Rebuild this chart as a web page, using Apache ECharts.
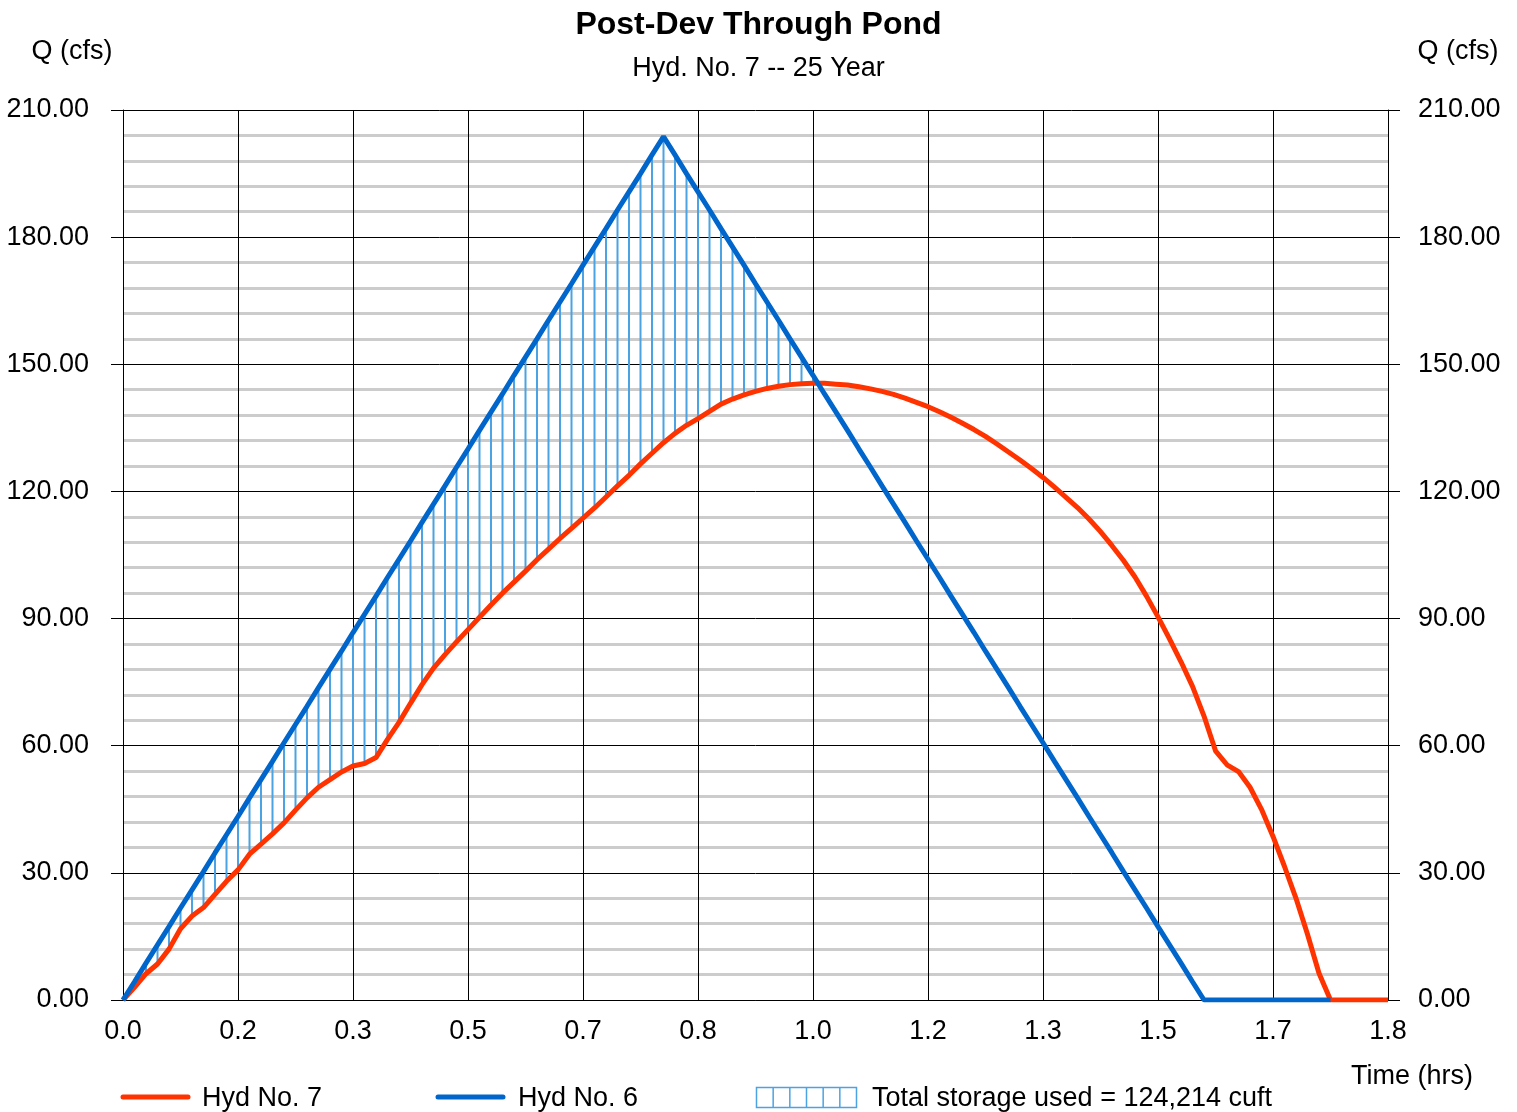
<!DOCTYPE html>
<html>
<head>
<meta charset="utf-8">
<script src="https://cdn.jsdelivr.net/npm/echarts@6/dist/echarts.min.js"></script>
<style>
html, body { margin: 0; padding: 0; background: #fff; }
#chart { width: 1517px; height: 1112px; }
</style>
</head>
<body>
<div id="chart"></div>
<script>
// one value per minute, starting at t = 0 min
const hyd7Outflow = [
	0, 3.0, 6.2, 8.5, 12.0, 16.8, 19.8, 21.8, 24.9, 28.0,
	30.7, 34.4, 36.8, 39.2, 41.8, 44.8, 47.7, 50.2, 52.0, 53.8,
	55.2, 55.8, 57.2, 61.5, 65.5, 70.0, 74.4, 78.3, 81.5, 84.5,
	87.4, 90.3, 93.2, 96.0, 98.6, 101.2, 103.9, 106.4, 108.9, 111.3,
	113.7, 116.1, 118.7, 121.3, 123.8, 126.5, 129.0, 131.5, 133.7, 135.6,
	137.2, 138.9, 140.6, 141.8, 142.8, 143.6, 144.3, 144.8, 145.2, 145.4,
	145.5, 145.5, 145.3, 145.1, 144.7, 144.2, 143.6, 142.9, 142.0, 141.0,
	140.0, 138.8, 137.5, 136.1, 134.6, 133.0, 131.2, 129.3, 127.4, 125.4,
	123.3, 121.0, 118.6, 116.2, 113.5, 110.5, 107.2, 103.7, 99.8, 95.3,
	90.4, 85.2, 79.8, 74.0, 67.0, 58.8, 55.5, 53.9, 50.2, 45.0,
	38.6, 31.5, 24.0, 15.5, 6.3, 0, 0, 0, 0, 0,
	0
];

const hyd6Inflow = [
	0, 4.3, 8.7, 13.0, 17.3, 21.7, 26.0, 30.3, 34.7, 39.0,
	43.3, 47.7, 52.0, 56.3, 60.7, 65.0, 69.3, 73.7, 78.0, 82.3,
	86.7, 91.0, 95.3, 99.7, 104.0, 108.3, 112.7, 117.0, 121.3, 125.7,
	130.0, 134.4, 138.7, 143.0, 147.4, 151.7, 156.0, 160.4, 164.7, 169.0,
	173.4, 177.7, 182.0, 186.4, 190.7, 195.0, 199.4, 203.7, 199.4, 195.0,
	190.7, 186.4, 182.0, 177.7, 173.4, 169.0, 164.7, 160.4, 156.0, 151.7,
	147.4, 143.0, 138.7, 134.4, 130.0, 125.7, 121.3, 117.0, 112.7, 108.3,
	104.0, 99.7, 95.3, 91.0, 86.7, 82.3, 78.0, 73.7, 69.3, 65.0,
	60.7, 56.3, 52.0, 47.7, 43.3, 39.0, 34.7, 30.3, 26.0, 21.7,
	17.3, 13.0, 8.7, 4.3, 0, 0, 0, 0, 0, 0,
	0, 0, 0, 0, 0, 0
];

const xTickLabels = ['0.0', '0.2', '0.3', '0.5', '0.7', '0.8', '1.0', '1.2', '1.3', '1.5', '1.7', '1.8'];
const storageText = 'Total storage used = 124,214 cuft';

const FONT = '"Liberation Sans", Arial, sans-serif';
const RED = '#ff3300';
const BLUE = '#0066cc';
const HATCH = '#4ba3e3';

const redData = hyd7Outflow.map((q, t) => [t, q]);
const blueData = hyd6Inflow.map((q, t) => [t, q]);
const hatchData = hyd6Inflow
	.map((q, t) => [t, hyd7Outflow[t], q])
	.filter(([, lo, hi]) => hi > lo);

const chart = echarts.init(document.getElementById('chart'));

const yAxisBase = {
	type: 'value',
	min: 0,
	max: 210,
	interval: 30,
	axisLine: { show: true, lineStyle: { color: '#000', width: 1 } },
	axisTick: { show: true, length: 12, lineStyle: { color: '#000', width: 1 } },
	axisLabel: { fontSize: 27, color: '#000', fontFamily: FONT, padding: [8, 0, 0, 0], formatter: (v) => v.toFixed(2) },
};

const txt = (x, y, text, align) => ({
	type: 'text', x, y,
	style: { text, font: '27px ' + FONT, fill: '#000', align: align || 'left', verticalAlign: 'middle' },
});

// legend drawn by hand so the storage swatch can be hatched
const legendItems = [
	{ type: 'line', shape: { x1: 123, y1: 1097, x2: 188, y2: 1097 }, style: { stroke: RED, lineWidth: 5, lineCap: 'round' } },
	txt(202, 1099, 'Hyd No. 7'),
	{ type: 'line', shape: { x1: 438, y1: 1097, x2: 503, y2: 1097 }, style: { stroke: BLUE, lineWidth: 5, lineCap: 'round' } },
	txt(518, 1099, 'Hyd No. 6'),
	{ type: 'rect', shape: { x: 756.5, y: 1087.5, width: 100, height: 20 }, style: { fill: 'none', stroke: HATCH, lineWidth: 1.5 } },
	...[1, 2, 3, 4, 5].map((k) => ({
		type: 'line',
		shape: { x1: 756.5 + k * 100 / 6, y1: 1087.5, x2: 756.5 + k * 100 / 6, y2: 1107.5 },
		style: { stroke: HATCH, lineWidth: 1.5 },
	})),
	txt(872, 1099, storageText),
	txt(1412, 1077, 'Time (hrs)', 'center'),
	txt(72, 52, 'Q (cfs)', 'center'),
	txt(1458, 52, 'Q (cfs)', 'center'),
];

chart.setOption({
	animation: false,
	backgroundColor: '#fff',
	title: [
		{ text: 'Post-Dev Through Pond', left: 'center', top: 4, textStyle: { fontSize: 32, fontWeight: 'bold', color: '#000', fontFamily: FONT } },
		{ text: 'Hyd. No. 7 -- 25 Year', left: 'center', top: 50, textStyle: { fontSize: 27, fontWeight: 'normal', color: '#000', fontFamily: FONT } },
	],
	grid: { left: 123, right: 129, top: 110, bottom: 112 },
	xAxis: {
		type: 'value',
		min: 0,
		max: 110,
		interval: 10,
		axisLine: { show: true, lineStyle: { color: '#000', width: 1 } },
		axisTick: { show: false },
		axisLabel: { margin: 18, fontSize: 27, color: '#000', fontFamily: FONT, formatter: (v) => xTickLabels[Math.round(v / 10)] },
		splitLine: { show: true, lineStyle: { color: '#000', width: 1 } },
	},
	yAxis: [
		{
			...yAxisBase,
			position: 'left',
			axisLabel: { ...yAxisBase.axisLabel, margin: 34 },
			splitLine: { show: true, lineStyle: { color: '#000', width: 1 } },
			minorTick: { show: false, splitNumber: 5 },
			minorSplitLine: { show: true, lineStyle: { color: '#cccccc', width: 3 } },
		},
		{
			...yAxisBase,
			position: 'right',
			axisLabel: { ...yAxisBase.axisLabel, margin: 30 },
			splitLine: { show: false },
		},
	],
	series: [
		{
			name: 'storage',
			type: 'custom',
			data: hatchData,
			z: 2,
			clip: true,
			renderItem: (params, api) => {
				const top = api.coord([api.value(0), api.value(2)]);
				const bottom = api.coord([api.value(0), api.value(1)]);
				return {
					type: 'line',
					shape: { x1: top[0], y1: top[1], x2: bottom[0], y2: bottom[1] },
					style: { stroke: HATCH, lineWidth: 2 },
				};
			},
		},
		{
			name: 'Hyd No. 7',
			type: 'line',
			data: redData,
			symbol: 'none',
			z: 3,
			lineStyle: { color: RED, width: 5 },
		},
		{
			name: 'Hyd No. 6',
			type: 'line',
			data: blueData,
			symbol: 'none',
			z: 4,
			lineStyle: { color: BLUE, width: 5 },
		},
	],
	graphic: legendItems,
});
</script>
</body>
</html>
